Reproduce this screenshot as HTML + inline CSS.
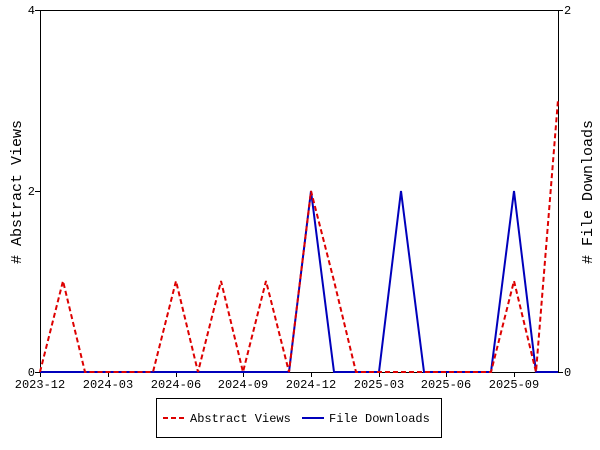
<!DOCTYPE html>
<html><head><style>body{margin:0;background:#fff}svg{display:block}text{font-family:"Liberation Mono",monospace;font-size:12px}</style></head><body>
<svg width="600" height="450" xmlns="http://www.w3.org/2000/svg">
<rect x="40.5" y="10.5" width="518" height="362" fill="none" stroke="#000"/>
<g stroke="#000">
<line x1="35" y1="372.5" x2="40" y2="372.5"/><line x1="35" y1="191.5" x2="40" y2="191.5"/><line x1="35" y1="10.5" x2="40" y2="10.5"/>
<line x1="558" y1="372.5" x2="563" y2="372.5"/><line x1="558" y1="10.5" x2="563" y2="10.5"/>
<line x1="40.5" y1="372" x2="40.5" y2="377"/><line x1="108.5" y1="372" x2="108.5" y2="377"/><line x1="176.5" y1="372" x2="176.5" y2="377"/><line x1="243.5" y1="372" x2="243.5" y2="377"/><line x1="311.5" y1="372" x2="311.5" y2="377"/><line x1="379.5" y1="372" x2="379.5" y2="377"/><line x1="446.5" y1="372" x2="446.5" y2="377"/><line x1="514.5" y1="372" x2="514.5" y2="377"/>
</g>
<g text-anchor="end"><text x="35" y="376">0</text><text x="35" y="195">2</text><text x="35" y="14">4</text></g>
<g><text x="564" y="376">0</text><text x="564" y="14">2</text></g>
<g text-anchor="middle"><text x="40" y="388">2023-12</text><text x="108" y="388">2024-03</text><text x="176" y="388">2024-06</text><text x="243" y="388">2024-09</text><text x="311" y="388">2024-12</text><text x="379" y="388">2025-03</text><text x="446" y="388">2025-06</text><text x="514" y="388">2025-09</text></g>
<text transform="translate(21,192) rotate(-90)" text-anchor="middle" font-size="15" style="font-size:15px"># Abstract Views</text>
<text transform="translate(592,192) rotate(-90)" text-anchor="middle" style="font-size:15px"># File Downloads</text>
<polyline fill="none" stroke="#0000bb" stroke-width="2" points="40,372 289,372 311,191 334,372 379,372 401,191 424,372 491,372 514,191 536,372 558,372"/>
<polyline fill="none" stroke="#dd0000" stroke-width="2" stroke-dasharray="5,3" points="40,372 63,281 85,372 153,372 176,281 198,372 221,281 243,372 266,281 289,372 311,191 334,281 356,372 491,372 514,281 536,372 558,100"/>
<rect x="156.5" y="398.5" width="285" height="39" fill="#fff" stroke="#000"/>
<line x1="163" y1="418" x2="185" y2="418" stroke="#dd0000" stroke-width="2" stroke-dasharray="5,3"/>
<text x="190" y="422">Abstract Views</text>
<line x1="302" y1="418" x2="324" y2="418" stroke="#0000bb" stroke-width="2"/>
<text x="329" y="422">File Downloads</text>
</svg>
</body></html>
